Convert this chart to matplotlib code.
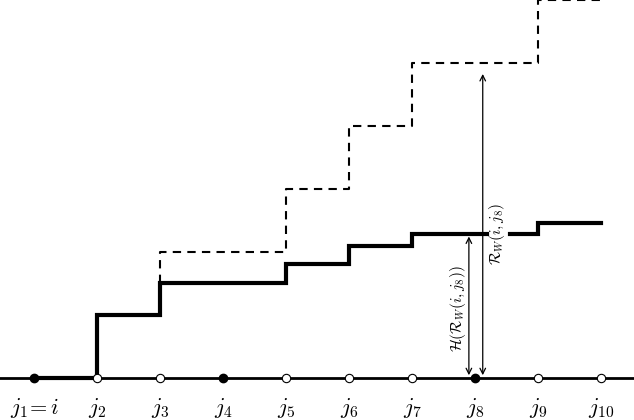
import matplotlib
matplotlib.use("Agg")
import matplotlib.pyplot as plt
plt.rcParams['mathtext.fontset'] = 'cm'

labels = [r"$j_1\!=i$", r"$j_2$", r"$j_3$", r"$j_4$", r"$j_5$", r"$j_6$", r"$j_7$", r"$j_8$", r"$j_9$", r"$j_{10}$"]
xs = list(range(1, 11))
filled = [1, 4, 8]
# solid step: (x_start, x_end, level)
solid_x = [1, 2, 2, 3, 3, 5, 5, 6, 6, 7, 7, 8.19]
solid_y = [0, 0, 1, 1, 1.5, 1.5, 1.81, 1.81, 2.1, 2.1, 2.29, 2.29]
solid2_x = [8.56, 9, 9, 10]
solid2_y = [2.29, 2.29, 2.46, 2.46]
dash_x = [3, 3, 5, 5, 6, 6, 7, 7, 9, 9, 10]
dash_y = [1.5, 2, 2, 3, 3, 4, 4, 5, 5, 6, 6]

fig = plt.figure(figsize=(6.34, 4.2), dpi=100)
ax = fig.add_axes([0, 0, 1, 1])
ax.set_xlim(0.46, 10.52)
ax.set_ylim(-0.667, 6.0)
ax.axis('off')

ax.plot([0.46, 10.52], [0, 0], color='black', lw=2)
ax.plot(solid_x, solid_y, color='black', lw=3, solid_joinstyle='miter')
ax.plot(solid2_x, solid2_y, color='black', lw=3, solid_joinstyle='miter')
ax.plot(dash_x, dash_y, color='black', lw=1.5, ls=(0, (4, 3)))
for x in xs:
    if x in filled:
        ax.plot(x, 0, 'o', color='black', ms=6)
    else:
        ax.plot(x, 0, 'o', mfc='white', mec='black', ms=6, mew=0.8)
    ax.text(x, -0.48, labels[x-1], ha='center', va='center', fontsize=16)

ax.annotate('', xy=(7.9, 2.29), xytext=(7.9, 0),
            arrowprops=dict(arrowstyle='<->', lw=0.9, color='black'))
ax.annotate('', xy=(8.12, 4.87), xytext=(8.12, 0),
            arrowprops=dict(arrowstyle='<->', lw=0.9, color='black'))
ax.text(7.72, 1.1, r"$\mathcal{H}(\mathcal{R}_W(i,j_8))$", rotation=90, ha='center', va='center', fontsize=11)
ax.text(8.35, 2.28, r"$\mathcal{R}_W(i,j_8)$", rotation=90, ha='center', va='center', fontsize=11)

fig.savefig("out.png", dpi=100)
